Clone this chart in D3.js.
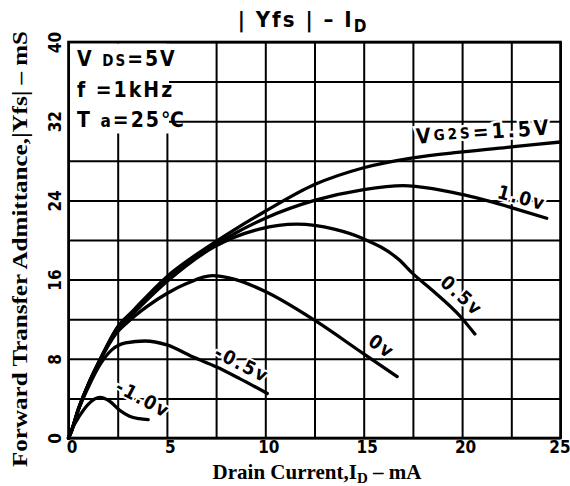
<!DOCTYPE html>
<html><head><meta charset="utf-8">
<script src="https://cdn.jsdelivr.net/npm/d3@7/dist/d3.min.js"></script>
<style>body{margin:0;background:#fff}svg{display:block}</style>
</head><body><svg id="c" width="570" height="486"></svg>
<script>
// ---- data ----
const xTicks = [0, 5, 10, 15, 20, 25];            // mA
const yTicks = [0, 8, 16, 24, 32, 40];            // mS
const xGrid = [0, 2.5, 5, 7.5, 10, 12.5, 15, 17.5, 20, 22.5, 25];
const yGrid = [0, 4, 8, 12, 16, 20, 24, 28, 32, 36, 40];

const seriesNames = ["1.5V", "1.0V", "0.5V", "0V", "-0.5V", "-1.0V"];
// [Drain current ID (mA), |Yfs| (mS)]
const vg15 = [[0,0],[0.15,0.7],[0.5,2.9],[1,5.4],[1.6,7.9],[2.45,11.1],[3.3,12.9],[5,16.3],[6.7,18.8],[8.4,21.0],[10,22.9],[12.5,25.6],[15,27.3],[17.5,28.3],[20,28.9],[22.5,29.4],[25,29.9]];
const vg10 = [[0,0],[0.15,0.7],[0.5,2.9],[1,5.4],[1.6,7.9],[2.45,11.0],[3.3,12.8],[5,16.1],[6.7,18.5],[8.4,20.6],[10,22.2],[12.5,24.0],[15,25.1],[17,25.5],[18.5,25.2],[20,24.6],[21.6,23.8],[22.8,23.1],[24.3,22.2]];
const vg05 = [[0,0],[0.15,0.7],[0.5,2.9],[1,5.4],[1.6,7.9],[2.45,10.9],[3.3,12.6],[5,15.8],[7.4,19.3],[9.7,21.1],[11.6,21.6],[13.5,21.1],[14.9,20.2],[16.8,18.0],[17.5,16.6],[18.5,14.9],[19.9,12.3],[20.65,10.5]];
const vg00 = [[0,0],[0.15,0.7],[0.5,2.9],[1,5.3],[1.6,7.8],[2.4,10.5],[3,11.7],[4,13.3],[5,14.6],[6,15.6],[7.3,16.4],[8.5,16.0],[10,14.8],[12.5,11.9],[15,8.5],[16.7,6.2]];
const vgm05 = [[0,0],[0.15,0.7],[0.5,2.8],[1,5.1],[1.6,7.4],[2.2,8.9],[2.9,9.6],[3.9,9.8],[5,9.4],[6.3,8.2],[7.5,7.2],[8.7,6.0],[10.1,4.5]];
const vgm10 = [[0,0],[0.2,1.0],[0.55,2.2],[1.0,3.4],[1.6,4.1],[2.1,3.7],[2.6,2.8],[3.1,2.2],[3.6,1.95],[4.05,1.85]];
const seriesValues = [vg15, vg10, vg05, vg00, vgm05, vgm10];

const curveLabels = ["1.0v", "0.5v", "0v", "-0.5v", "-1.0v"];
const curveLabelAt = [[23.04,24.3],[20.0,14.4],[15.93,9.3],[8.82,7.5],[3.79,4.0]];
const curveLabelAngle = [15, 42, 35, 27, 28];

// ---- layout ----
const svg = d3.select("#c");
const L = 68.5, R = 560.5, T = 42, B = 438;
const x = d3.scaleLinear().domain([0, 25]).range([L, R]);
const y = d3.scaleLinear().domain([0, 40]).range([B, T]);
const condensed = "'DejaVu Sans Condensed','DejaVu Sans',sans-serif";
const serif = "'Liberation Serif','DejaVu Serif',serif";

// grid via axes
const gx = svg.append("g").attr("transform", `translate(0,${B})`)
  .call(d3.axisBottom(x).tickValues(xGrid).tickSize(-(B - T)).tickFormat(""));
const gy = svg.append("g").attr("transform", `translate(${L},0)`)
  .call(d3.axisLeft(y).tickValues(yGrid).tickSize(-(R - L)).tickFormat(""));
[gx, gy].forEach(g => {
  g.select(".domain").remove();
  g.selectAll("line").attr("stroke", "#000").attr("stroke-width", 2);
});

// white block behind condition text (grid interrupted in reference)
svg.append("rect").attr("x", L + 1.5).attr("y", T + 1.5).attr("width", 99).attr("height", 90).attr("fill", "#fff");

// frame
svg.append("rect").attr("x", L).attr("y", T).attr("width", R - L).attr("height", B - T)
  .attr("fill", "none").attr("stroke", "#000").attr("stroke-width", 2.6);

// curves
const line = d3.line().x(d => x(d[0])).y(d => y(d[1])).curve(d3.curveMonotoneX);
svg.append("g").selectAll("path").data(seriesValues).join("path")
  .attr("d", line).attr("fill", "none").attr("stroke", "#000")
  .attr("stroke-width", 3.3).attr("stroke-linecap", "round").attr("stroke-linejoin", "round");

// curve labels
const lab = svg.append("g").attr("font-family", condensed).attr("font-weight", "bold")
  .attr("font-size", 19).attr("letter-spacing", 2);
curveLabels.forEach((t, i) => {
  const [cx, cy] = curveLabelAt[i];
  lab.append("text").attr("transform", `translate(${x(cx)},${y(cy)}) rotate(${curveLabelAngle[i]})`)
    .attr("text-anchor", "middle").attr("dominant-baseline", "central")
    .attr("stroke", "#fff").attr("stroke-width", 4).attr("paint-order", "stroke")
    .attr("fill", "#000").text(t);
});
// VG2S = 1.5V label
const vl = svg.append("text").attr("transform", `translate(${x(21.1)},${y(30.9)}) rotate(-4)`)
  .attr("text-anchor", "middle").attr("dominant-baseline", "central")
  .attr("font-family", condensed).attr("font-weight", "bold").attr("font-size", 21)
  .attr("letter-spacing", 3).attr("stroke", "#fff").attr("stroke-width", 5).attr("paint-order", "stroke");
vl.append("tspan").text("V");
vl.append("tspan").attr("font-size", 15).text("G2S");
vl.append("tspan").text("=1.5V");

// conditions
const cond = svg.append("g").attr("font-family", condensed).attr("font-weight", "bold")
  .attr("font-size", 21).attr("letter-spacing", 2);
const c1 = cond.append("text").attr("x", 77).attr("y", 66);
c1.append("tspan").text("V ");
c1.append("tspan").attr("font-size", 15).text("DS");
c1.append("tspan").text("=5V");
cond.append("text").attr("x", 77).attr("y", 97).text("f =1kHz");
const c3 = cond.append("text").attr("x", 77).attr("y", 127);
c3.append("tspan").text("T ");
c3.append("tspan").attr("font-size", 17).text("a");
c3.append("tspan").text("=25℃");

// tick labels via axes
const ax = svg.append("g").attr("transform", `translate(3,${B + 1})`)
  .call(d3.axisBottom(x).tickValues(xTicks).tickSize(0).tickPadding(2).tickFormat(d3.format("d")));
ax.select(".domain").remove();
ax.selectAll("text").attr("font-family", condensed).attr("font-weight", "bold").attr("font-size", 17).attr("fill", "#000");
ax.selectAll(".tick").filter(d => d === 25).select("text").attr("x", -4);

const ay = svg.append("g").attr("transform", `translate(${L},0)`)
  .call(d3.axisLeft(y).tickValues(yTicks).tickSize(0).tickFormat(d3.format("d")));
ay.select(".domain").remove();
ay.selectAll("text").attr("font-family", condensed).attr("font-weight", "bold").attr("font-size", 17)
  .attr("fill", "#000").attr("text-anchor", "middle").attr("dy", null)
  .attr("x", null).attr("transform", "translate(-14,0) rotate(-90)").attr("dominant-baseline", "central");

// title
const title = svg.append("text").attr("x", 303).attr("y", 27).attr("text-anchor", "middle")
  .attr("font-family", condensed).attr("font-weight", "bold").attr("font-size", 22).attr("letter-spacing", 2);
title.append("tspan").text("| Yfs |   –  I");
title.append("tspan").attr("font-size", 17).attr("dy", 5).text("D");

// axis titles
const xt = svg.append("text").attr("x", 317).attr("y", 479).attr("text-anchor", "middle")
  .attr("font-family", serif).attr("font-weight", "bold").attr("font-size", 21);
xt.append("tspan").text("Drain Current,I");
xt.append("tspan").attr("font-size", 15).attr("dy", 4).text("D");
xt.append("tspan").attr("dy", -4).text(" – mA");

svg.append("text").attr("transform", "translate(27,249) rotate(-90)").attr("text-anchor", "middle")
  .attr("font-family", serif).attr("font-weight", "bold").attr("font-size", 21)
  .attr("textLength", 436).attr("lengthAdjust", "spacingAndGlyphs")
  .text("Forward Transfer Admittance,|Yfs| – mS");
</script></body></html>
